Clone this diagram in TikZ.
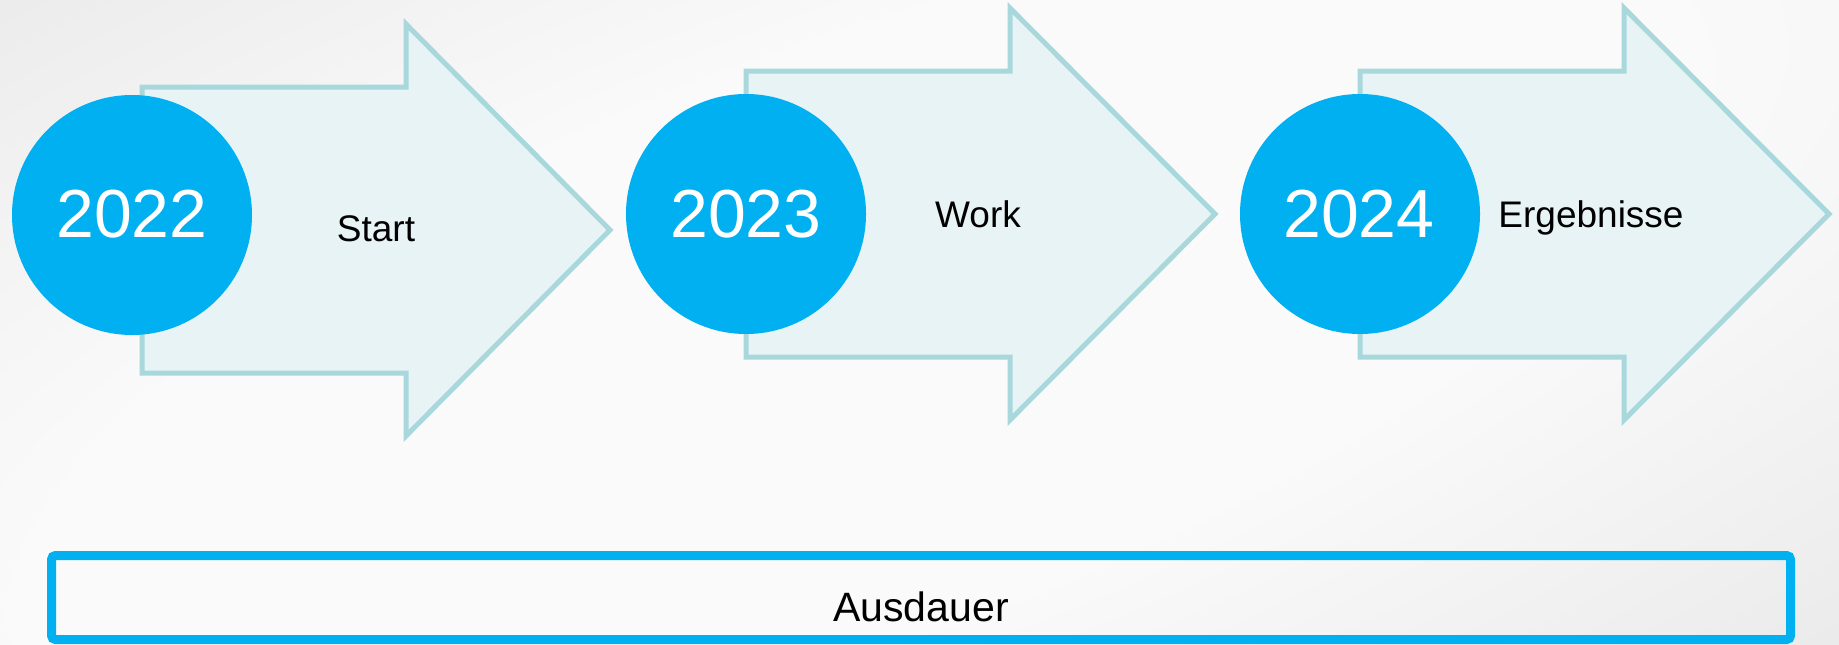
\documentclass[tikz,border=0pt]{standalone}
\usepackage{fontspec}
\setmainfont{Liberation Sans}
\definecolor{bgIn}{RGB}{250,250,250}
\definecolor{bgOut}{RGB}{225,225,225}
\definecolor{yearblue}{RGB}{0,176,240}
\definecolor{arrowfill}{RGB}{231,243,244}
\definecolor{arrowline}{RGB}{168,216,220}
\pgfdeclareradialshading{bgshade}{\pgfpoint{0bp}{0bp}}{color(0bp)=(bgIn); color(9bp)=(bgIn); color(29bp)=(bgOut); color(71bp)=(bgOut)}
\begin{document}
\begin{tikzpicture}[x=1pt,y=-1pt,
  phase/.style={draw=arrowline, fill=arrowfill, line width=5pt},
  year/.style={circle, fill=yearblue, minimum size=240pt, inner sep=0pt},
  yeartext/.style={anchor=base, text=white, font=\fontsize{68}{80}\selectfont, inner sep=0pt},
  phasetext/.style={anchor=base, font=\fontsize{37}{44}\selectfont, inner sep=0pt},
  bartext/.style={anchor=base, font=\fontsize{41}{48}\selectfont, inner sep=0pt},
  barbox/.style={draw=yearblue, line width=9pt, rounded corners=4pt, minimum width=1739pt, minimum height=84pt, inner sep=0pt}]
\useasboundingbox (0,0) rectangle (1839,645);
\begin{scope}
  \clip (0,0) rectangle (1839,645);
  \fill[bgOut] (0,0) rectangle (1839,645);
  \begin{scope}[transform canvas={shift={(860,340)}, rotate=20, yscale=0.3333}]
    \shade[shading=bgshade] (-2400,-2400) rectangle (2400,2400);
  \end{scope}
\end{scope}
% phase 1
\draw[phase] (142,87) -- (406,87) -- (406,24) -- (610,230) -- (406,436) -- (406,373) -- (142,373) -- cycle;
\node[year] (c1) at (132,215) {};
\node[yeartext] (y1) at (132,237) {2022};
\node[phasetext] (t1) at (376,241) {Start};
% phase 2
\draw[phase] (746,71) -- (1010,71) -- (1010,8) -- (1215,214) -- (1010,420) -- (1010,357) -- (746,357) -- cycle;
\node[year] (c2) at (746,214) {};
\node[yeartext] (y2) at (746,237) {2023};
\node[phasetext] (t2) at (978,227) {Work};
% phase 3
\draw[phase] (1360,71) -- (1624,71) -- (1624,8) -- (1829,214) -- (1624,420) -- (1624,357) -- (1360,357) -- cycle;
\node[year] (c3) at (1360,214) {};
\node[yeartext] (y3) at (1359,237) {2024};
\node[phasetext] (t3) at (1591,227) {Ergebnisse};
% bottom bar
\node[barbox] (bar) at (921,597.5) {};
\node[bartext] (t4) at (921,621) {Ausdauer};
\end{tikzpicture}
\end{document}
